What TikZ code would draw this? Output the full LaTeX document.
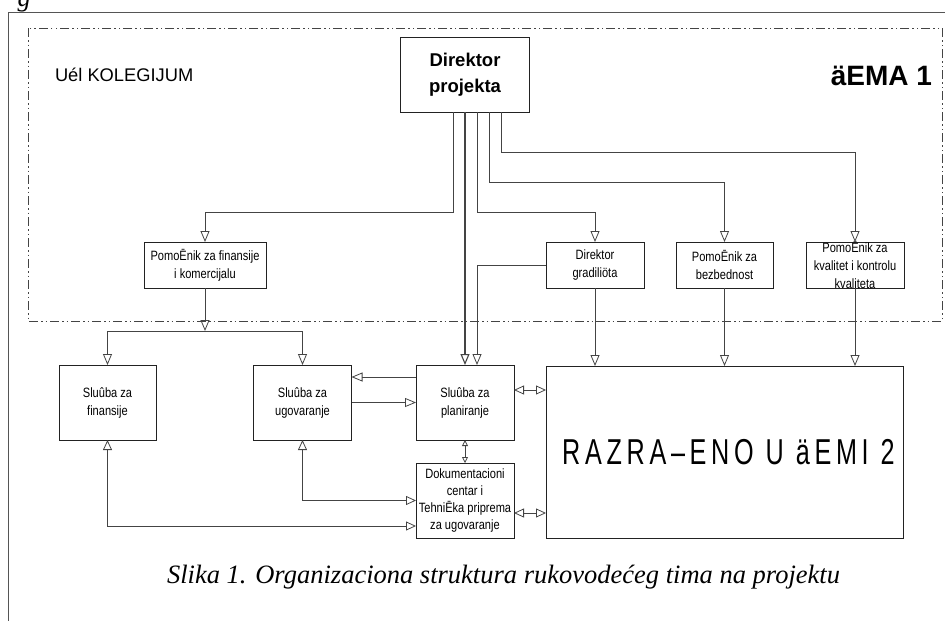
\documentclass[tikz,border=0pt]{standalone}
\usepackage{fontspec}
\setmainfont{Liberation Serif}
\setsansfont{Liberation Sans}
\newfontfamily\narrowsf[FakeStretch=0.82]{Liberation Sans}
\newfontfamily\widesf[FakeStretch=0.7,LetterSpace=13]{Liberation Sans}
\usepackage{tikz}
\definecolor{orgFrame}{HTML}{555555}
\definecolor{orgBox}{HTML}{222222}
\definecolor{orgLine}{HTML}{444444}
\usetikzlibrary{arrows.meta}

\begin{document}
\begin{tikzpicture}[x=1pt,y=-1pt,
  every node/.style={font=\narrowsf\fontsize{13.5}{18}\selectfont, inner sep=0pt, outer sep=0pt},
  box/.style={draw=orgBox, line width=0.9pt, align=center, minimum width=98pt, minimum height=75pt},
  topbox/.style={box, minimum height=46pt},
  conn/.style={draw=orgLine, line width=0.8pt},
  tri/.style={-{Triangle[open,length=11pt,width=9pt]}},
  twoway/.style={{Triangle[open,length=10pt,width=9pt]}-{Triangle[open,length=10pt,width=9pt]}},
  smallway/.style={{Triangle[open,length=6pt,width=6pt]}-{Triangle[open,length=6pt,width=6pt]}}]
  \useasboundingbox (0,0) rectangle (945,621);
  \node[font=\itshape\fontsize{26}{30}\selectfont, anchor=base] (gfrag) at (24,6) {g};
  \draw[orgFrame, line width=1pt] (945,12) -- (8,12) -- (8,621);
  \draw[orgLine, line width=0.8pt, dash pattern=on 9pt off 3pt on 1.5pt off 3pt on 1.5pt off 3pt] (28,28) rectangle (942,321);
  \node[anchor=west, font=\sffamily\fontsize{18.3}{22}\selectfont] (kolegij) at (55,75) {Uél KOLEGIJUM};
  \node[anchor=east, font=\sffamily\bfseries\fontsize{28}{30}\selectfont] (sema1) at (932,76) {äEMA 1};
  \node[box, minimum width=129pt, font=\sffamily\bfseries\fontsize{18.5}{26}\selectfont] (dirProj) at (465,74.5) {Direktor\\projekta};
  % pomocnici
  \node[topbox, minimum width=122pt] (pomFin) at (205,265) {PomoĒnik za finansije\\i komercijalu};
  \node[topbox] (dirGrad) at (595,265) {Direktor\\gradiliöta};
  \node[topbox, minimum width=97pt] (pomBez) at (724.5,265) {PomoĒnik za\\bezbednost};
  \node[topbox] (pomKval) at (855,265) {};
  \node[align=center] (pomKvalTxt) at (pomKval.center) {PomoĒnik za\\kvalitet i kontrolu\\kvaliteta};
  % sluzbe
  \node[box, minimum width=97pt] (sluFin) at (107.5,402.5) {Sluûba za\\finansije};
  \node[box] (sluUgov) at (302.5,402.5) {Sluûba za\\ugovaranje};
  \node[box] (sluPlan) at (465,402.5) {Sluûba za\\planiranje};
  \node[box, font=\narrowsf\fontsize{13.5}{17}\selectfont] (dokCentar) at (465,500.5) {Dokumentacioni\\centar i\\TehniĒka priprema\\za ugovaranje};
  \node[box, minimum width=357pt, minimum height=172pt, text width=357pt, font=\widesf\fontsize{36}{40}\selectfont] (razrada) at (724.5,452) {\hspace*{8pt}RAZRA–ENO U äEMI 2};
  \node[font=\itshape\fontsize{26.5}{30}\selectfont] (caption) at (503.5,577) {Slika 1. Organizaciona struktura rukovodećeg tima na projektu};
  % veze
  \foreach \dx/\dy/\n in {-12/100/pomFin,12/100/dirGrad,24/70/pomBez,36/40/pomKval}
    \draw[conn,tri] ([xshift=\dx]dirProj.south) -- ++(0,\dy) -| (\n.north);
  \draw[conn,tri,line width=1.1pt] (dirProj.south) -- (sluPlan.north);
  \draw[conn,tri] (dirGrad.west) -| ([xshift=12]sluPlan.north);
  \coordinate (split) at ([yshift=-43]pomFin.south);
  \draw[conn,tri] (pomFin.south) -- (split);
  \draw[conn,tri] (split) -| (sluFin.north);
  \draw[conn,tri] (split) -| (sluUgov.north);
  \foreach \n in {dirGrad,pomBez,pomKval}
    \draw[conn,tri] (\n.south) -- (\n.south |- razrada.north);
  \draw[conn,tri] ([yshift=25.5]sluPlan.west) -- ([yshift=25.5]sluUgov.east);
  \draw[conn,tri] (sluUgov.east) -- (sluPlan.west);
  \coordinate (planOut) at ([yshift=12.5]sluPlan.east);
  \draw[conn,twoway] (planOut) -- (planOut -| razrada.west);
  \coordinate (dokOut) at ([yshift=-12.5]dokCentar.east);
  \draw[conn,twoway] (dokOut) -- (dokOut -| razrada.west);
  \draw[conn,smallway] (sluPlan.south) -- (dokCentar.north);
  \draw[conn,twoway] (sluUgov.south) |- (dokCentar.west);
  \coordinate (dokIn) at ([yshift=-25.5]dokCentar.west);
  \draw[conn,twoway] (sluFin.south) |- (dokIn);
\end{tikzpicture}
\end{document}
